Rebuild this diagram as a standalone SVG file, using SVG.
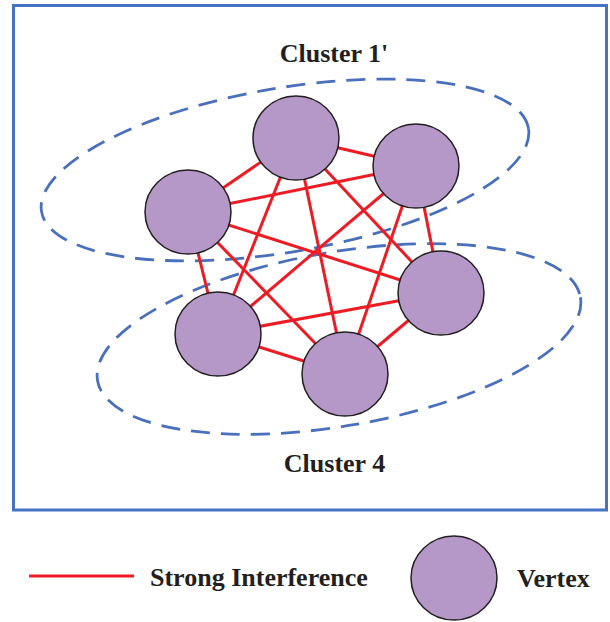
<svg xmlns="http://www.w3.org/2000/svg" width="610" height="622" viewBox="0 0 610 622">
  <style>
    .frame { fill: #ffffff; stroke: #4472c4; stroke-width: 3; }
    .cluster { fill: none; stroke: #4a70bd; stroke-width: 2.8; stroke-dasharray: 19 11; }
    .edge { stroke: #ed1c24; stroke-width: 3; stroke-linecap: butt; }
    .vertex { fill: #b597c8; stroke: #231f20; stroke-width: 1.5; }
    .label { font-family: "Liberation Serif", "Times New Roman", serif; font-weight: bold; font-size: 26px; fill: #231f20; }
  </style>

  <rect class="frame" x="13.5" y="5.5" width="593" height="504.5"/>

  <!-- cluster outlines -->
  <g id="cluster-1p">
    <ellipse class="cluster" cx="285" cy="170" rx="247" ry="82" transform="rotate(-9.7 285 170)"/>
    <text class="label" x="334" y="62" text-anchor="middle">Cluster 1'</text>
  </g>
  <g id="cluster-4">
    <ellipse class="cluster" cx="339" cy="339" rx="245" ry="87" transform="rotate(-9.8 339 339)"/>
    <text class="label" x="334.5" y="472" text-anchor="middle">Cluster 4</text>
  </g>

  <!-- interference links (complete graph on six vertices) -->
  <g id="connectors">
    <line class="edge" x1="296" y1="138" x2="416" y2="166"/>
    <line class="edge" x1="296" y1="138" x2="188" y2="212"/>
    <line class="edge" x1="296" y1="138" x2="441" y2="293"/>
    <line class="edge" x1="296" y1="138" x2="218" y2="334"/>
    <line class="edge" x1="296" y1="138" x2="345" y2="374"/>
    <line class="edge" x1="416" y1="166" x2="188" y2="212"/>
    <line class="edge" x1="416" y1="166" x2="441" y2="293"/>
    <line class="edge" x1="416" y1="166" x2="218" y2="334"/>
    <line class="edge" x1="416" y1="166" x2="345" y2="374"/>
    <line class="edge" x1="188" y1="212" x2="441" y2="293"/>
    <line class="edge" x1="188" y1="212" x2="218" y2="334"/>
    <line class="edge" x1="188" y1="212" x2="345" y2="374"/>
    <line class="edge" x1="441" y1="293" x2="218" y2="334"/>
    <line class="edge" x1="441" y1="293" x2="345" y2="374"/>
    <line class="edge" x1="218" y1="334" x2="345" y2="374"/>
  </g>

  <!-- vertices -->
  <g id="v-top"><ellipse class="vertex" cx="296" cy="138" rx="43" ry="42"/></g>
  <g id="v-top-right"><ellipse class="vertex" cx="416" cy="166" rx="43" ry="42"/></g>
  <g id="v-left"><ellipse class="vertex" cx="188" cy="212" rx="43" ry="42"/></g>
  <g id="v-right"><ellipse class="vertex" cx="441" cy="293" rx="43" ry="42"/></g>
  <g id="v-lower-left"><ellipse class="vertex" cx="218" cy="334" rx="43" ry="42"/></g>
  <g id="v-bottom"><ellipse class="vertex" cx="345" cy="374" rx="43" ry="42"/></g>

  <!-- legend -->
  <g id="legend-edge">
    <line class="edge" x1="29" y1="576" x2="134" y2="576"/>
    <text class="label" x="150" y="586">Strong Interference</text>
  </g>
  <g id="legend-vertex">
    <ellipse class="vertex" cx="454" cy="578" rx="43" ry="42"/>
    <text class="label" x="517" y="587">Vertex</text>
  </g>
</svg>
